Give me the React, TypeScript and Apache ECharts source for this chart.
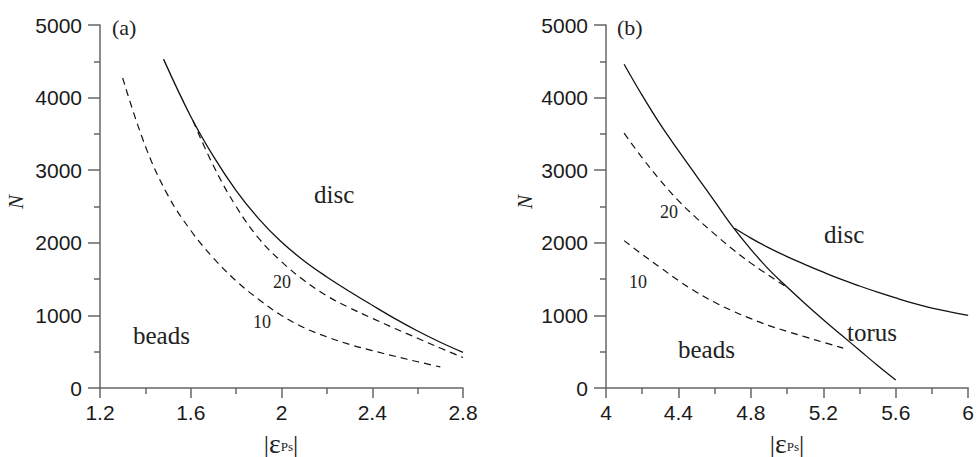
import React, { useEffect, useRef } from 'react';
import * as echarts from 'echarts';

// Panel (a)
const aSolid: [number, number][] = [
  [1.48, 4530], [1.6, 3740], [1.7, 3190], [1.8, 2720], [1.9, 2330], [2.0, 2010],
  [2.1, 1750], [2.2, 1530], [2.3, 1330], [2.4, 1140], [2.5, 955], [2.6, 785],
  [2.7, 630], [2.8, 490],
];
const aDash20: [number, number][] = [
  [1.61, 3680], [1.7, 3060], [1.8, 2500], [1.9, 2060], [2.0, 1740], [2.1, 1480],
  [2.2, 1270], [2.3, 1105], [2.4, 960], [2.5, 820], [2.6, 685], [2.7, 550], [2.8, 420],
];
const aDash10: [number, number][] = [
  [1.3, 4270], [1.4, 3330], [1.5, 2650], [1.6, 2170], [1.7, 1790], [1.8, 1475],
  [1.9, 1220], [2.0, 1000], [2.1, 830], [2.2, 705], [2.3, 600], [2.4, 515],
  [2.5, 437], [2.6, 362], [2.7, 290],
];

// Panel (b)
const bSteep: [number, number][] = [
  [4.1, 4460], [4.2, 4030], [4.3, 3630], [4.4, 3270], [4.5, 2920], [4.6, 2570],
  [4.7, 2220], [4.8, 1910], [4.9, 1630], [5.0, 1390], [5.1, 1160], [5.2, 940],
  [5.3, 730], [5.4, 520], [5.5, 310], [5.6, 110],
];
const bDisc: [number, number][] = [
  [4.71, 2200], [4.8, 2065], [4.9, 1930], [5.0, 1810], [5.1, 1700], [5.2, 1595],
  [5.3, 1495], [5.4, 1405], [5.5, 1320], [5.6, 1240], [5.7, 1165], [5.8, 1100],
  [5.9, 1048], [6.0, 1000],
];
const bDash20: [number, number][] = [
  [4.1, 3510], [4.2, 3170], [4.3, 2860], [4.4, 2580], [4.5, 2340], [4.6, 2120],
  [4.7, 1910], [4.8, 1720], [4.9, 1550], [4.99, 1400],
];
const bDash10: [number, number][] = [
  [4.1, 2030], [4.2, 1840], [4.3, 1660], [4.4, 1480], [4.5, 1320], [4.6, 1180],
  [4.7, 1060], [4.8, 955], [4.9, 860], [5.0, 780], [5.1, 705], [5.2, 630], [5.31, 550],
];

const xRangeA = [1.2, 2.8];
const xRangeB = [4, 6];
const yRange = [0, 5000];

const AXIS = '#666';
const INK = '#1a1a1a';
const SERIF = '"Liberation Serif", "Times New Roman", serif';
const SANS = '"Liberation Sans", Arial, sans-serif';

const xAxisCfg = (gridIndex: number, range: number[]) => ({
  type: 'value',
  gridIndex,
  min: range[0],
  max: range[1],
  interval: 0.4,
  axisLine: { show: true, onZero: false, lineStyle: { color: AXIS, width: 1.5 } },
  axisTick: { show: true, inside: false, length: 10, lineStyle: { color: AXIS, width: 1.5 } },
  minorTick: { show: true, splitNumber: 2, length: 6, lineStyle: { color: AXIS, width: 1.5 } },
  splitLine: { show: false },
  minorSplitLine: { show: false },
  axisLabel: {
    margin: 14,
    fontSize: 21,
    color: INK,
    fontFamily: SANS,
    formatter: (v: number) => String(parseFloat(v.toFixed(1))),
  },
});

const yAxisCfg = (gridIndex: number) => ({
  type: 'value',
  gridIndex,
  min: yRange[0],
  max: yRange[1],
  interval: 1000,
  axisLine: { show: true, onZero: false, lineStyle: { color: AXIS, width: 1.5 } },
  axisTick: { show: true, inside: false, length: 12, lineStyle: { color: AXIS, width: 1.5 } },
  minorTick: { show: true, splitNumber: 2, length: 6, lineStyle: { color: AXIS, width: 1.5 } },
  splitLine: { show: false },
  minorSplitLine: { show: false },
  axisLabel: {
    margin: 18,
    fontSize: 21,
    color: INK,
    fontFamily: SANS,
    formatter: (v: number) => String(v),
  },
});

const lineSeries = (idx: number, data: [number, number][], dashed: boolean) => ({
  type: 'line',
  xAxisIndex: idx,
  yAxisIndex: idx,
  data,
  showSymbol: false,
  symbol: 'none',
  smooth: 0.4,
  silent: true,
  lineStyle: { color: '#111', width: dashed ? 1.2 : 1.3, type: dashed ? [7, 5] : 'solid' },
});

const labels = [
  { x: 112, y: 27, text: '(a)', size: 22 },
  { x: 617, y: 27, text: '(b)', size: 22 },
  { x: 314, y: 194, text: 'disc', size: 25 },
  { x: 133, y: 335, text: 'beads', size: 25 },
  { x: 273, y: 282, text: '20', size: 18 },
  { x: 253, y: 322, text: '10', size: 18 },
  { x: 660, y: 212, text: '20', size: 18 },
  { x: 629, y: 282, text: '10', size: 18 },
  { x: 678, y: 349, text: 'beads', size: 25 },
  { x: 824, y: 234, text: 'disc', size: 25 },
  { x: 847, y: 332, text: 'torus', size: 25 },
];

const axisNames = [
  { x: 281, y: 443 },
  { x: 787, y: 443 },
];
const yNames = [
  { x: 16, y: 202 },
  { x: 525, y: 202 },
];

export default function App() {
  const ref = useRef<HTMLDivElement>(null);
  useEffect(() => {
    if (!ref.current) return;
    const chart = echarts.init(ref.current, null, { renderer: 'svg' });
    const graphic: any[] = [];
    labels.forEach((l) =>
      graphic.push({
        type: 'text',
        x: l.x,
        y: l.y,
        style: {
          text: l.text,
          fontSize: l.size,
          fontFamily: SERIF,
          fill: '#222',
          align: 'left',
          verticalAlign: 'middle',
        },
      })
    );
    axisNames.forEach((a) =>
      graphic.push({
        type: 'text',
        x: a.x,
        y: a.y,
        style: {
          text: '{b||}{e|ε}{s|Ps}{b||}',
          align: 'center',
          verticalAlign: 'middle',
          fill: '#222',
          rich: {
            b: { fontSize: 26, fontFamily: SERIF, fill: '#222', verticalAlign: 'bottom' },
            e: { fontSize: 28, fontFamily: SERIF, fill: '#222', verticalAlign: 'bottom' },
            s: {
              fontSize: 13,
              fontFamily: SERIF,
              fill: '#222',
              verticalAlign: 'bottom',
              padding: [0, 0, 4, 0],
            },
          },
        },
      })
    );
    yNames.forEach((n) =>
      graphic.push({
        type: 'text',
        x: n.x,
        y: n.y,
        rotation: Math.PI / 2,
        style: {
          text: 'N',
          fontSize: 21,
          fontStyle: 'italic',
          fontFamily: SERIF,
          fill: '#222',
          align: 'center',
          verticalAlign: 'middle',
        },
      })
    );

    chart.setOption({
      animation: false,
      backgroundColor: '#fff',
      grid: [
        { left: 100, top: 25, width: 363, height: 363 },
        { left: 606, top: 25, width: 363, height: 363 },
      ],
      xAxis: [xAxisCfg(0, xRangeA), xAxisCfg(1, xRangeB)],
      yAxis: [yAxisCfg(0), yAxisCfg(1)],
      series: [
        lineSeries(0, aSolid, false),
        lineSeries(0, aDash20, true),
        lineSeries(0, aDash10, true),
        lineSeries(1, bSteep, false),
        lineSeries(1, bDisc, false),
        lineSeries(1, bDash20, true),
        lineSeries(1, bDash10, true),
      ],
      graphic,
    });
    return () => chart.dispose();
  }, []);
  return (
    <div
      ref={ref}
      style={{ position: 'fixed', left: 0, top: 0, width: 977, height: 457, background: '#fff' }}
    />
  );
}
